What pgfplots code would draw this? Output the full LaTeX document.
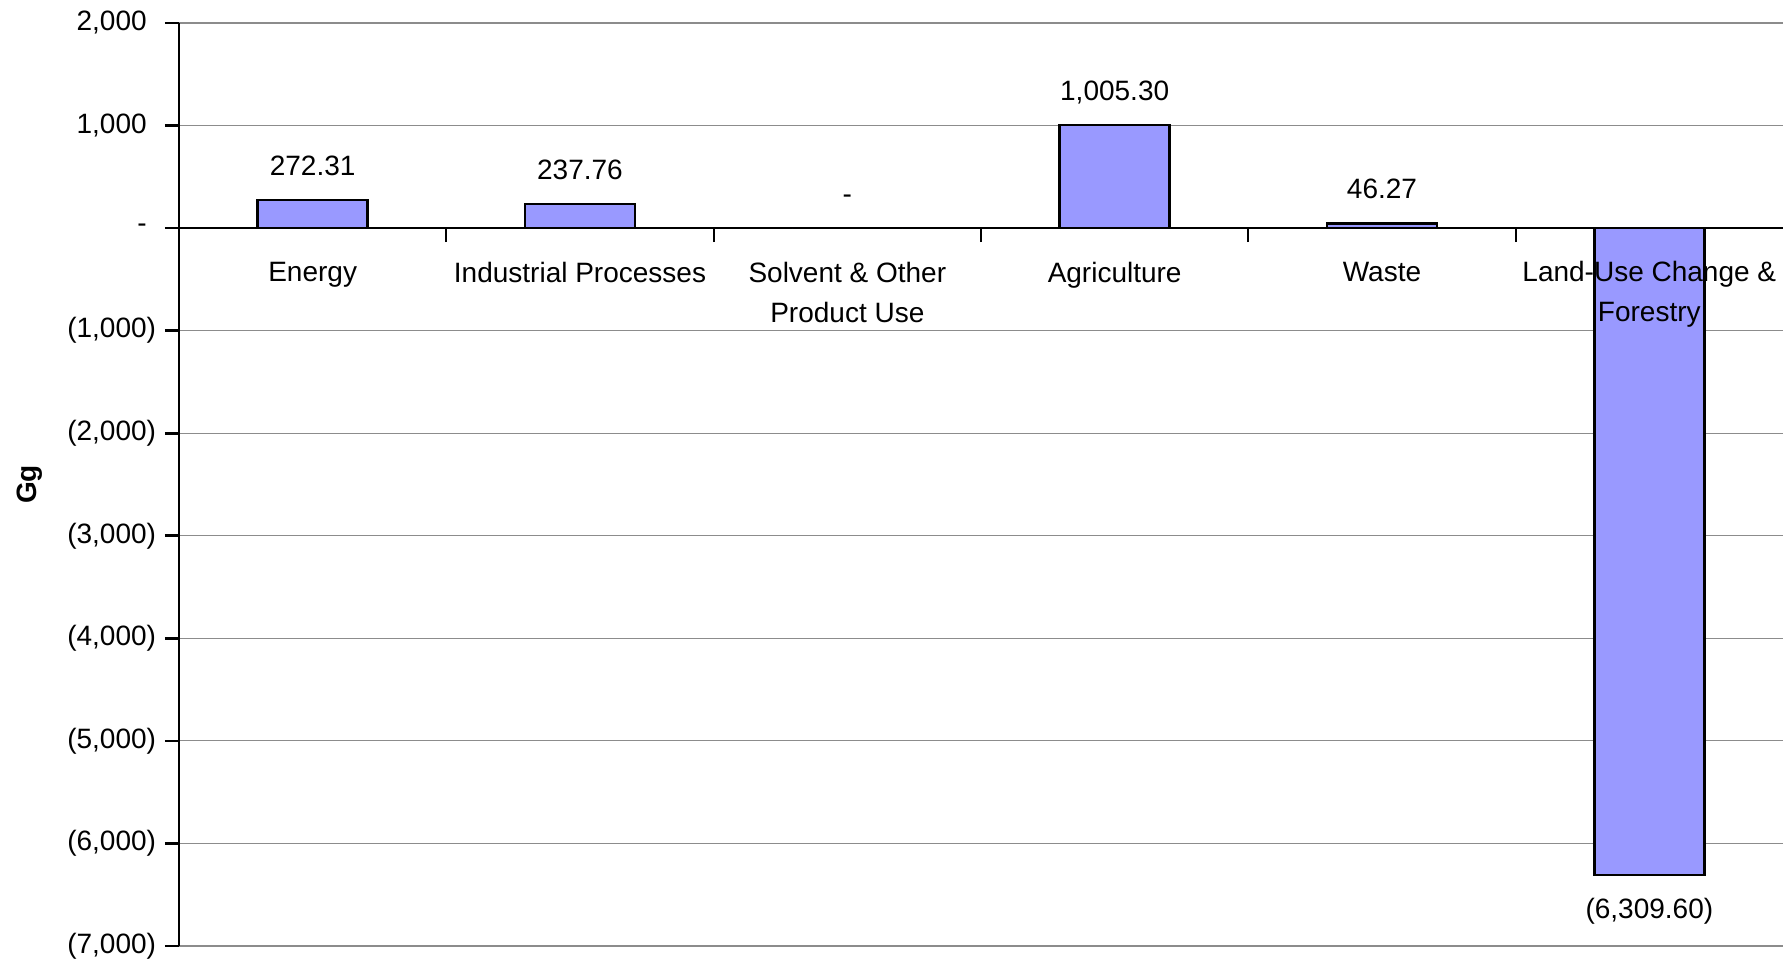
\documentclass[border=0pt]{standalone}
\usepackage{pgfplots}
\pgfplotsset{compat=1.18}
\usepackage{fontspec}
\setmainfont{Liberation Sans}
\definecolor{barfill}{HTML}{9999FF}

\newcommand{\negnum}[1]{{}(#1\rlap{)}}

\begin{document}
\fontsize{14pt}{20pt}\selectfont
\begin{tikzpicture}
\useasboundingbox (0,0) rectangle (891.5pt,481pt);
\begin{axis}[
    at={(89.5pt,8pt)},
    anchor=south west,
    width=802pt,
    height=461.5pt,
    scale only axis,
    axis y line=left,
    axis x line=middle,
    axis line style={-, line width=1.3pt, black},
    xmin=-0.5, xmax=5.5,
    ymin=-7000, ymax=2000,
    ytick={-7000,-6000,...,2000},
    yticklabels={{\negnum{7,000}},{\negnum{6,000}},{\negnum{5,000}},{\negnum{4,000}},{\negnum{3,000}},{\negnum{2,000}},{\negnum{1,000}},-,{1,000},{2,000}},
    xtick={0,...,4},
    xticklabels={Energy,Industrial Processes,Solvent \& Other\\Product Use,Agriculture,Waste},
    xticklabel style={align=center, yshift=-5pt},
    minor xtick={0.5,1.5,...,4.5},
    major x tick style={draw=none},
    minor x tick style={line width=1pt, black},
    y tick style={line width=1.3pt, black},
    tick align=outside,
    major tick length=7pt,
    minor tick length=7pt,
    ymajorgrids,
    grid style={gray!90, line width=0.6pt},
    yticklabel style={xshift=-4.3pt},
    ylabel={\textbf{Gg}},
    ylabel style={at={(axis description cs:-0.093,0.5)}, anchor=center},
    ybar,
    bar width=55pt,
    bar shift=0pt,
    point meta=explicit symbolic,
    nodes near coords={\pgfplotspointmeta},
    every node near coord/.append style={font=\fontsize{14pt}{20pt}\selectfont, text depth=0pt},
    clip=false,
]
\addplot[fill=barfill, draw=black, line width=1.2pt,
    every node near coord/.append style={anchor=south, yshift=7pt}] coordinates {
    (0,272.31) [272.31]
    (1,237.76) [237.76]
    (2,0) [-]
    (3,1005.30) [{1,005.30}]
    (4,46.27) [46.27]
};
\addplot[fill=barfill, draw=black, line width=1.2pt,
    every node near coord/.append style={anchor=north, yshift=-6pt}] coordinates {
    (5,-6309.60) [{(6,309.60)}]
};
% last category name sits over its bar, so it is drawn after the plots
\node[align=center, anchor=north, inner sep=0pt, yshift=-16.5pt] at (axis cs:5,0) {Land-Use Change \&\\Forestry};
\end{axis}
\end{tikzpicture}
\end{document}
